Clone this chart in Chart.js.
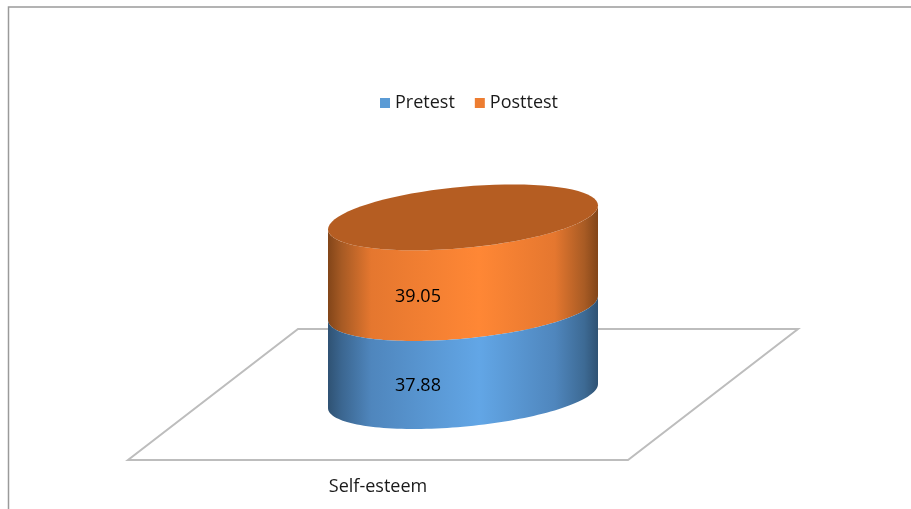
<!DOCTYPE html>
<html><head><meta charset="utf-8">
<style>html,body{margin:0;padding:0;background:#fff}canvas{display:block}</style>
<script src="https://cdn.jsdelivr.net/npm/chart.js@4"></script>
</head><body><canvas id="c" width="911" height="509"></canvas>
<script>
const categories = ['Self-esteem'];
const pretest = [37.88];
const posttest = [39.05];
const seriesNames = ['Pretest', 'Posttest'];

const FONT = '"Open Sans", "Noto Sans", sans-serif';
const TEXT = '#1a1a1a';
const SIDE = [
  [[0,'#2f5273'],[0.05,'#3b6690'],[0.16,'#4f86bd'],[0.56,'#62a6e6'],[0.84,'#4f86bd'],[0.95,'#3d6a94'],[1,'#2f5273']],
  [[0,'#824519'],[0.05,'#a65a24'],[0.16,'#e5772f'],[0.56,'#ff8735'],[0.84,'#e5772f'],[0.95,'#a85b24'],[1,'#824519']]
];
const CAP = '#b55d22';
const SHEAR = 0.089, RY = 30.7;

function arc(ctx, cx, cy, a, from, to, move) {
  const n = 80;
  for (let i = 0; i <= n; i++) {
    const t = from + (to - from) * i / n;
    const x = cx + a * Math.cos(t);
    const y = cy + RY * Math.sin(t) - SHEAR * a * Math.cos(t);
    if (i === 0 && move) ctx.moveTo(x, y); else ctx.lineTo(x, y);
  }
}

const cylinder = {
  id: 'cylinder',
  afterLayout(chart) {
    chart.legend.left += 8; chart.legend.right += 8;
  },
  beforeDatasetsDraw(chart) {
    const {ctx, chartArea: ca, scales} = chart;
    const y0 = scales.y.getPixelForValue(0);
    const d = 85;
    ctx.save();
    ctx.strokeStyle = '#bdbdbd'; ctx.lineWidth = 2; ctx.lineJoin = 'miter';
    ctx.beginPath();
    ctx.moveTo(ca.left + d, y0 - 67);
    ctx.lineTo(ca.right + d, y0 - 67);
    ctx.lineTo(ca.right - d, y0 + 64);
    ctx.lineTo(ca.left - d, y0 + 64);
    ctx.closePath(); ctx.stroke();
    ctx.restore();
  },
  beforeDatasetDraw(chart, args) {
    const {ctx} = chart;
    const i = args.index;
    const meta = chart.getDatasetMeta(i);
    meta.data.forEach((bar, k) => {
      const p = bar.getProps(['x','y','base','width'], true);
      const a = p.width / 2;
      const g = ctx.createLinearGradient(p.x - a, 0, p.x + a, 0);
      SIDE[i].forEach(s => g.addColorStop(s[0], s[1]));
      ctx.save();
      ctx.fillStyle = g;
      ctx.beginPath();
      arc(ctx, p.x, p.base, a, Math.PI, 0, true);
      arc(ctx, p.x, p.y, a, 0, Math.PI, false);
      ctx.closePath(); ctx.fill();
      if (i === chart.data.datasets.length - 1) {
        ctx.fillStyle = CAP;
        ctx.beginPath();
        arc(ctx, p.x, p.y, a, 0, Math.PI * 2, true);
        ctx.closePath(); ctx.fill();
      }
      ctx.restore();
    });
    return false;
  },
  afterDatasetsDraw(chart) {
    const {ctx} = chart;
    ctx.save();
    ctx.font = '18px ' + FONT; ctx.fillStyle = '#000';
    ctx.textAlign = 'center'; ctx.textBaseline = 'middle';
    chart.data.datasets.forEach((ds, i) => {
      chart.getDatasetMeta(i).data.forEach((bar, k) => {
        const p = bar.getProps(['x','y','base'], true);
        ctx.fillText(ds.data[k].toFixed(2), p.x - 45, (p.y + p.base) / 2 + 34);
      });
    });
    ctx.restore();
  },
  afterDraw(chart) {
    const {ctx, width, height} = chart;
    ctx.save();
    ctx.strokeStyle = '#9a9a9a'; ctx.lineWidth = 1.5;
    ctx.beginPath();
    ctx.moveTo(8.5, height); ctx.lineTo(8.5, 7); ctx.lineTo(width, 7);
    ctx.stroke();
    ctx.restore();
  }
};

new Chart(document.getElementById('c'), {
  type: 'bar',
  data: {
    labels: categories,
    datasets: [
      {label: seriesNames[0], data: pretest, backgroundColor: '#5b9bd5', borderWidth: 0},
      {label: seriesNames[1], data: posttest, backgroundColor: '#ed7d31', borderWidth: 0}
    ]
  },
  plugins: [cylinder],
  options: {
    responsive: false, animation: false,
    layout: {padding: {left: 213, right: 198, top: 70, bottom: 11}},
    datasets: {bar: {categoryPercentage: 0.54, barPercentage: 1}},
    scales: {
      x: {stacked: true, grid: {display: false, drawTicks: false}, border: {display: false},
          afterFit(scale) { scale.height = 102; },
          ticks: {font: {family: FONT, size: 18}, color: TEXT, padding: 80, labelOffset: -85, maxRotation: 0}},
      y: {stacked: true, display: false, min: 0, max: 118}
    },
    plugins: {
      tooltip: {enabled: false},
      legend: {position: 'top', labels: {font: {family: FONT, size: 18}, color: TEXT,
        usePointStyle: true, pointStyle: 'rect', boxWidth: 2, boxHeight: 10, padding: 24}}
    }
  }
});
</script></body></html>
